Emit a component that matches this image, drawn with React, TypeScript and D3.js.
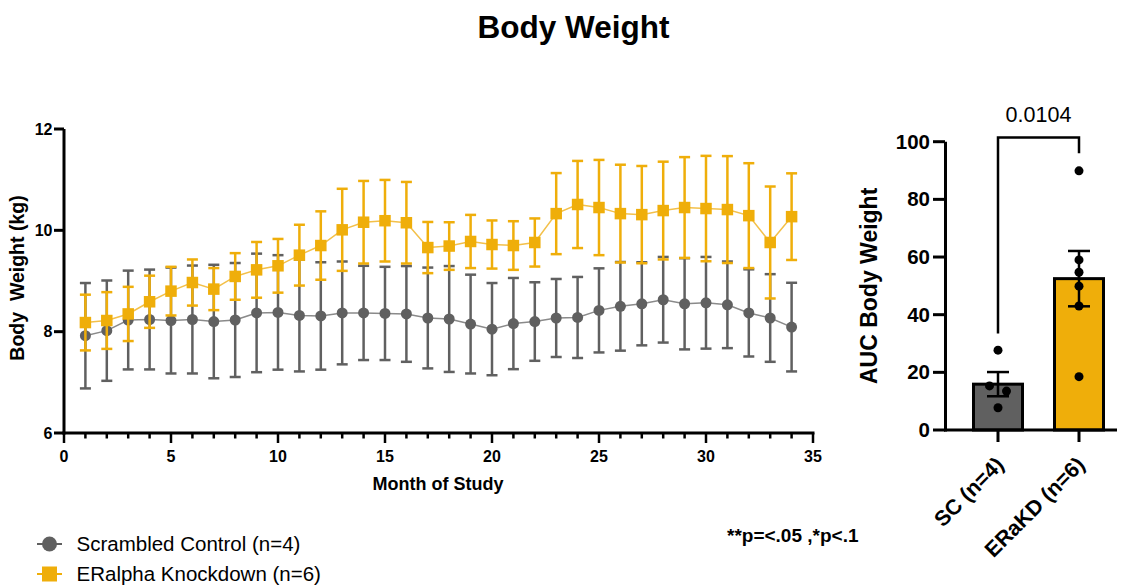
import React from 'react';
import * as d3 from 'd3';

// Monthly body weight (kg), mean and SEM per group
const months = [1, 2, 3, 4, 5, 6, 7, 8, 9, 10, 11, 12, 13, 14, 15, 16, 17, 18, 19, 20, 21, 22, 23, 24, 25, 26, 27, 28, 29, 30, 31, 32, 33, 34];
const scMean = [7.92, 8.02, 8.23, 8.24, 8.22, 8.24, 8.2, 8.23, 8.37, 8.38, 8.32, 8.31, 8.37, 8.37, 8.36, 8.35, 8.27, 8.25, 8.15, 8.05, 8.16, 8.2, 8.27, 8.28, 8.42, 8.5, 8.55, 8.63, 8.55, 8.57, 8.53, 8.37, 8.27, 8.09];
const scSem = [1.04, 0.99, 0.975, 0.985, 1.045, 1.065, 1.12, 1.125, 1.17, 1.13, 1.105, 1.06, 1.015, 0.93, 0.92, 0.945, 0.995, 1.045, 0.975, 0.91, 0.9, 0.775, 0.77, 0.8, 0.83, 0.875, 0.82, 0.845, 0.9, 0.905, 0.855, 0.86, 0.865, 0.875];
const kdMean = [8.18, 8.22, 8.35, 8.59, 8.8, 8.97, 8.84, 9.09, 9.22, 9.3, 9.51, 9.7, 10.01, 10.16, 10.19, 10.15, 9.66, 9.69, 9.78, 9.72, 9.7, 9.76, 10.33, 10.51, 10.45, 10.33, 10.31, 10.39, 10.45, 10.43, 10.41, 10.29, 9.76, 10.27];
const kdSem = [0.55, 0.56, 0.535, 0.515, 0.48, 0.455, 0.415, 0.46, 0.55, 0.53, 0.6, 0.675, 0.81, 0.815, 0.805, 0.805, 0.505, 0.47, 0.525, 0.475, 0.48, 0.475, 0.8, 0.86, 0.94, 0.965, 0.96, 0.965, 0.995, 1.04, 1.055, 1.035, 1.105, 0.855];

const weightTicks = [6, 8, 10, 12];
const monthTicks = [0, 5, 10, 15, 20, 25, 30, 35];

// Area under the curve per group
const groups = ['SC (n=4)', 'ERaKD (n=6)'];
const aucMean = [15.9, 52.5];
const aucSem = [4.2, 9.6];
const scAuc = [27.7, 15.3, 13.5, 7.7];
const kdAuc = [89.9, 59.0, 54.7, 49.9, 43.0, 18.5];
const aucTicks = [0, 20, 40, 60, 80, 100];
const pValue = '0.0104';

const seriesNames = ['Scrambled Control (n=4)', 'ERalpha Knockdown (n=6)'];

const GRAY = '#606060';
const GOLD = '#EFAE0A';
const FONT = "'Liberation Sans', Arial, Helvetica, sans-serif";

// horizontal spread for overlapping individual points
const scJitter = [0, -8.5, 8.5, 0];
const kdJitter = [0, 0, 0, 0, 0, 0];

export default function App() {
  const x = d3.scaleLinear().domain([0, 35]).range([64, 813]);
  const y = d3.scaleLinear().domain([6, 12]).range([433, 129]);

  const yA = d3.scaleLinear().domain([0, 100]).range([430, 141.7]);
  const xA = d3.scalePoint<string>().domain(groups).range([998, 1079]);

  const line = d3
    .line<number>()
    .x((_, i) => x(months[i]))
    .y((d) => y(d));

  const allMonths = d3.range(0, 36);

  const errBars = (mean: number[], sem: number[], color: string) =>
    months.map((m, i) => {
      const cx = x(m);
      const hi = y(mean[i] + sem[i]);
      const lo = y(mean[i] - sem[i]);
      return (
        <g key={m} stroke={color} strokeWidth={2.5}>
          <line x1={cx} x2={cx} y1={hi} y2={lo} />
          <line x1={cx - 5.5} x2={cx + 5.5} y1={hi} y2={hi} />
          <line x1={cx - 5.5} x2={cx + 5.5} y1={lo} y2={lo} />
        </g>
      );
    });

  const barW = 49;
  const aucPoints = [scAuc, kdAuc];
  const jitters = [scJitter, kdJitter];

  return (
    <svg
      width={1121}
      height={585}
      style={{ position: 'absolute', left: 0, top: 0, background: '#fff' }}
      fontFamily={FONT}
    >
      <rect width={1121} height={585} fill="#fff" />
      <text x={573.5} y={38} textAnchor="middle" fontSize={31.5} fontWeight="bold">
        Body Weight
      </text>

      {/* ---- time course ---- */}
      <path d={line(scMean) || ''} fill="none" stroke="#8a8a8a" strokeWidth={1.5} />
      {errBars(scMean, scSem, GRAY)}
      {months.map((m, i) => (
        <circle key={m} cx={x(m)} cy={y(scMean[i])} r={5.5} fill={GRAY} />
      ))}
      <path d={line(kdMean) || ''} fill="none" stroke="#F3C04A" strokeWidth={1.5} />
      {errBars(kdMean, kdSem, GOLD)}
      {months.map((m, i) => (
        <rect key={m} x={x(m) - 5.75} y={y(kdMean[i]) - 5.75} width={11.5} height={11.5} fill={GOLD} />
      ))}

      {/* axes */}
      <g stroke="#000" strokeWidth={3}>
        <line x1={64} x2={64} y1={y(12)} y2={y(6) + 1.5} />
        <line x1={62.5} x2={x(35) + 1.5} y1={y(6)} y2={y(6)} />
        {weightTicks.map((t) => (
          <line key={t} x1={54} x2={64} y1={y(t)} y2={y(t)} />
        ))}
        {allMonths.map((m) => (
          <line key={m} x1={x(m)} x2={x(m)} y1={y(6)} y2={y(6) + (m % 5 === 0 ? 10 : 5.5)} strokeWidth={2.5} />
        ))}
      </g>
      <g fontSize={16} fontWeight="bold">
        {weightTicks.map((t) => (
          <text key={t} x={52.5} y={y(t) + 5.5} textAnchor="end">
            {t}
          </text>
        ))}
        {monthTicks.map((t) => (
          <text key={t} x={x(t)} y={462} textAnchor="middle">
            {t}
          </text>
        ))}
      </g>
      <text x={438} y={490} textAnchor="middle" fontSize={18} fontWeight="bold">
        Month of Study
      </text>
      <text
        transform={`translate(24,${(y(6) + y(12)) / 2 - 3}) rotate(-90)`}
        textAnchor="middle"
        fontSize={19.5}
        fontWeight="bold"
        xmlSpace="preserve"
        style={{ whiteSpace: 'pre' }}
      >
        {'Body  Weight (kg)'}
      </text>

      {/* legend */}
      <g>
        <line x1={37} x2={62} y1={544} y2={544} stroke={GRAY} strokeWidth={2} />
        <circle cx={49.5} cy={544} r={7.5} fill={GRAY} />
        <text x={76.5} y={551} fontSize={20.5}>
          {seriesNames[0]}
        </text>
        <line x1={37} x2={62} y1={574} y2={574} stroke={GOLD} strokeWidth={2} />
        <rect x={42} y={566.5} width={15} height={15} fill={GOLD} />
        <text x={76.5} y={581} fontSize={20.5}>
          {seriesNames[1]}
        </text>
      </g>
      <text x={727} y={542} fontSize={19} fontWeight="bold">
        **p=&lt;.05 ,*p&lt;.1
      </text>

      {/* ---- AUC bars ---- */}
      {groups.map((g, i) => {
        const cx = xA(g) as number;
        return (
          <g key={g}>
            <rect
              x={cx - barW / 2}
              y={yA(aucMean[i])}
              width={barW}
              height={yA(0) - yA(aucMean[i])}
              fill={i === 0 ? GRAY : GOLD}
              stroke="#000"
              strokeWidth={3}
            />
            <g stroke="#000" strokeWidth={2.5}>
              <line x1={cx} x2={cx} y1={yA(aucMean[i] + aucSem[i])} y2={yA(aucMean[i] - aucSem[i])} />
              <line x1={cx - 11} x2={cx + 11} y1={yA(aucMean[i] + aucSem[i])} y2={yA(aucMean[i] + aucSem[i])} />
              <line x1={cx - 11} x2={cx + 11} y1={yA(aucMean[i] - aucSem[i])} y2={yA(aucMean[i] - aucSem[i])} />
            </g>
            {aucPoints[i].map((v, j) => (
              <circle key={j} cx={cx + jitters[i][j]} cy={yA(v)} r={4.5} fill="#000" />
            ))}
          </g>
        );
      })}
      <g stroke="#000" strokeWidth={3}>
        <line x1={945.5} x2={945.5} y1={yA(100)} y2={yA(0) + 1.5} />
        <line x1={944} x2={1117} y1={yA(0)} y2={yA(0)} />
        {aucTicks.map((t) => (
          <line key={t} x1={933} x2={945} y1={yA(t)} y2={yA(t)} />
        ))}
        {groups.map((g) => (
          <line key={g} x1={xA(g) as number} x2={xA(g) as number} y1={yA(0)} y2={yA(0) + 12} />
        ))}
      </g>
      <g fontWeight="bold">
        {aucTicks.map((t) => (
          <text key={t} x={930} y={yA(t) + 7} textAnchor="end" fontSize={20.5}>
            {t}
          </text>
        ))}
        {groups.map((g) => (
          <text
            key={g}
            transform={`translate(${(xA(g) as number) + 7},${466}) rotate(-45)`}
            textAnchor="end"
            fontSize={21.5}
          >
            {g}
          </text>
        ))}
      </g>
      <text
        transform={`translate(877,${(yA(0) + yA(100)) / 2}) rotate(-90)`}
        textAnchor="middle"
        fontSize={23}
        fontWeight="bold"
      >
        AUC Body Weight
      </text>

      {/* significance bracket */}
      <path
        d={`M${xA(groups[0])},${yA(33.5)}V${yA(101.5)}H${xA(groups[1])}V${yA(96)}`}
        fill="none"
        stroke="#000"
        strokeWidth={2.5}
      />
      <text x={((xA(groups[0]) as number) + (xA(groups[1]) as number)) / 2} y={122} textAnchor="middle" fontSize={21.5}>
        {pValue}
      </text>
    </svg>
  );
}
